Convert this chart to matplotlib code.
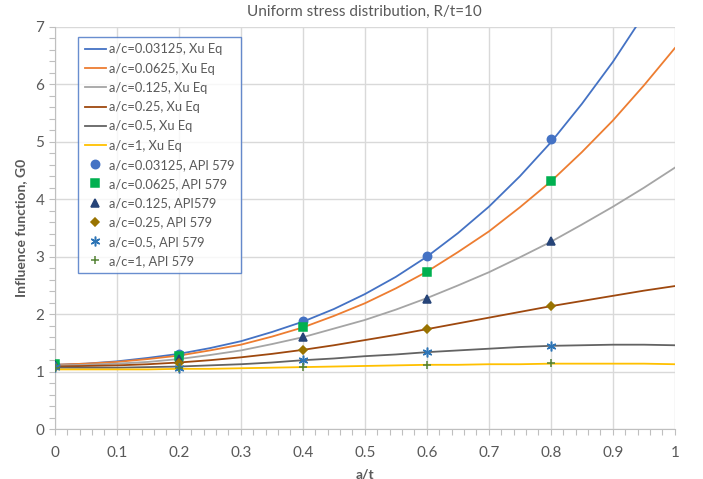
# -*- coding: utf-8 -*-

import numpy as np
import matplotlib
matplotlib.use("Agg")
import matplotlib.pyplot as plt
from matplotlib.ticker import MultipleLocator

# a/t positions for the Xu Eq curves
at_xu = [0.0, 0.05, 0.1, 0.15, 0.2, 0.25, 0.3, 0.35, 0.4, 0.45, 0.5,
         0.55, 0.6, 0.65, 0.7, 0.75, 0.8, 0.85, 0.9, 0.95, 1.0]

# Xu Eq curves
g0_xu_003125 = [1.12, 1.14, 1.18, 1.24, 1.31, 1.41, 1.53, 1.69, 1.87, 2.09, 2.35,
                2.65, 3.00, 3.41, 3.87, 4.40, 4.99, 5.66, 6.39, 7.21, 8.09]
g0_xu_00625 = [1.12, 1.14, 1.17, 1.22, 1.28, 1.37, 1.47, 1.61, 1.77, 1.97, 2.19,
               2.45, 2.74, 3.08, 3.44, 3.86, 4.31, 4.82, 5.37, 5.98, 6.63]
g0_xu_0125 = [1.11, 1.12, 1.14, 1.17, 1.22, 1.29, 1.37, 1.48, 1.60, 1.75, 1.90,
              2.08, 2.28, 2.50, 2.73, 2.99, 3.26, 3.56, 3.87, 4.20, 4.55]
g0_xu_025 = [1.09, 1.10, 1.11, 1.13, 1.16, 1.20, 1.25, 1.31, 1.38, 1.46, 1.55,
             1.64, 1.74, 1.84, 1.94, 2.04, 2.14, 2.23, 2.32, 2.41, 2.49]
g0_xu_05 = [1.07, 1.07, 1.07, 1.08, 1.09, 1.11, 1.13, 1.16, 1.20, 1.23, 1.27,
            1.30, 1.34, 1.37, 1.40, 1.43, 1.45, 1.46, 1.47, 1.47, 1.46]
g0_xu_1 = [1.04, 1.04, 1.04, 1.04, 1.05, 1.05, 1.06, 1.07, 1.08, 1.09, 1.10,
           1.11, 1.12, 1.12, 1.13, 1.13, 1.14, 1.14, 1.14, 1.14, 1.13]

# API 579 points
at_api = [0.0, 0.2, 0.4, 0.6, 0.8]
g0_api_003125 = [1.12, 1.31, 1.89, 3.01, 5.04]
g0_api_00625 = [1.13, 1.28, 1.78, 2.73, 4.32]
g0_api_0125 = [1.11, 1.22, 1.60, 2.27, 3.27]
g0_api_025 = [1.09, 1.15, 1.38, 1.74, 2.14]
g0_api_05 = [1.08, 1.07, 1.20, 1.34, 1.45]
g0_api_1 = [1.06, 1.06, 1.08, 1.12, 1.15]

xu_labels = ["a/c=0.03125, Xu Eq", "a/c=0.0625, Xu Eq", "a/c=0.125, Xu Eq",
             "a/c=0.25, Xu Eq", "a/c=0.5, Xu Eq", "a/c=1, Xu Eq"]
api_labels = ["a/c=0.03125, API 579", "a/c=0.0625, API 579", "a/c=0.125, API579",
              "a/c=0.25, API 579", "a/c=0.5, API 579", "a/c=1, API 579"]
x_ticklabels = ["0", "0.1", "0.2", "0.3", "0.4", "0.5", "0.6", "0.7", "0.8", "0.9", "1"]


def main():
    plt.rcParams["font.family"] = ["Lato", "DejaVu Sans"]
    txt = "#595959"

    fig = plt.figure(figsize=(7.03, 4.79), dpi=100)
    ax = fig.add_axes([0.078, 0.104, 0.882, 0.840])

    # Xu Eq の曲線
    xu_series = [g0_xu_003125, g0_xu_00625, g0_xu_0125, g0_xu_025, g0_xu_05, g0_xu_1]
    xu_colors = ["#4472C4", "#ED7D31", "#A5A5A5", "#9E480E", "#636363", "#FFC000"]
    for ys, c, lab in zip(xu_series, xu_colors, xu_labels):
        ax.plot(at_xu, ys, color=c, lw=1.3, label=lab, zorder=3)

    # API 579 の点
    api_series = [g0_api_003125, g0_api_00625, g0_api_0125, g0_api_025, g0_api_05, g0_api_1]
    api_colors = ["#4472C4", "#00B050", "#264478", "#997300", "#2E75B6", "#548235"]
    api_markers = ["o", "s", "^", "D", (6, 2, 0), "+"]
    api_sizes = [6, 6, 6, 4.5, 7, 6]
    for ys, c, m, s, lab in zip(api_series, api_colors, api_markers, api_sizes, api_labels):
        ax.plot(at_api, ys, ls="none", marker=m, ms=s, color=c, mec=c,
                mew=1.1, label=lab, zorder=4)

    # 軸範囲と目盛
    ax.set_xlim(0, 1)
    ax.set_ylim(0, 7)
    ax.set_xticks(np.arange(0, 1.01, 0.1))
    ax.set_xticklabels(x_ticklabels)
    ax.xaxis.set_minor_locator(MultipleLocator(0.02))
    ax.yaxis.set_major_locator(MultipleLocator(1))
    ax.yaxis.set_minor_locator(MultipleLocator(0.2))
    ax.tick_params(which="both", direction="out", color="#BFBFBF", labelcolor=txt,
                   labelsize=11, length=4, width=0.8)
    ax.tick_params(axis="x", pad=8)

    # グリッドと枠
    ax.grid(True, which="major", color="#D9D9D9", lw=1.0, zorder=0)
    ax.set_axisbelow(True)
    for side in ["top", "right"]:
        ax.spines[side].set_visible(False)
    for side in ["left", "bottom"]:
        ax.spines[side].set_color("#BFBFBF")
        ax.spines[side].set_linewidth(0.8)

    ax.set_title("Uniform stress distribution, R/t=10", color=txt, fontsize=11, pad=8)
    ax.set_xlabel("a/t", color=txt, fontsize=10, fontweight="bold", labelpad=6)
    ax.set_ylabel("Influence function, G0", color=txt, fontsize=10, fontweight="bold", labelpad=6)

    leg = ax.legend(loc="upper left", bbox_to_anchor=(0.038, 0.975), fontsize=9.3,
                    frameon=True, fancybox=False, edgecolor="#4472C4",
                    handlelength=1.6, handletextpad=0.3, borderpad=0.5,
                    labelspacing=0.56, borderaxespad=0)
    leg.get_frame().set_linewidth(1.0)
    for t in leg.get_texts():
        t.set_color(txt)

    fig.savefig("out.png", dpi=100)


if __name__ == '__main__':
    main()
